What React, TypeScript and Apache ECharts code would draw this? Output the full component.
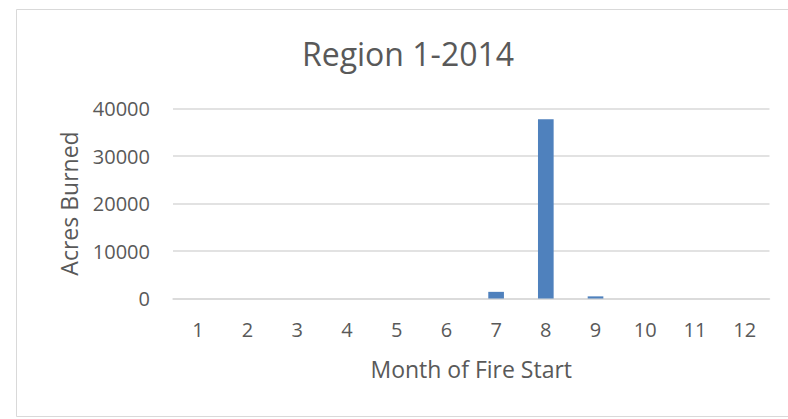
import React, { useEffect, useRef } from "react";
import * as echarts from "echarts";

const months = ["1", "2", "3", "4", "5", "6", "7", "8", "9", "10", "11", "12"];
const acresBurned = [0, 0, 0, 0, 0, 0, 1400, 37750, 450, 0, 0, 0];
const chartTitle = "Region 1-2014";
const xName = "Month of Fire Start";
const yName = "Acres Burned";

const FONT = "'Open Sans', sans-serif";
const TEXT = "#595959";

export default function App() {
  const ref = useRef<HTMLDivElement>(null);
  useEffect(() => {
    document.body.style.margin = "0";
    const chart = echarts.init(ref.current!, null, { renderer: "svg" });
    chart.setOption({
      animation: false,
      backgroundColor: "#ffffff",
      textStyle: { fontFamily: FONT },
      title: {
        text: chartTitle,
        left: 408,
        textAlign: "center",
        top: 37,
        padding: 0,
        textStyle: { fontFamily: FONT, fontSize: 32, fontWeight: "normal", color: TEXT, lineHeight: 32 },
      },
      graphic: [
        {
          type: "rect",
          shape: { x: 16.5, y: 9.5, width: 790, height: 407 },
          style: { fill: "none", stroke: "#D9D9D9", lineWidth: 1 },
          silent: true,
          z: -1,
        },
      ],
      grid: { left: 173, right: 18.5, top: 108.5, bottom: 120.5 },
      xAxis: {
        type: "category",
        data: months,
        name: xName,
        nameLocation: "middle",
        nameGap: 59,
        nameTextStyle: { fontFamily: FONT, fontSize: 23, color: TEXT, lineHeight: 23 },
        axisLine: { lineStyle: { color: "#D9D9D9", width: 1.5 } },
        axisTick: { show: false },
        axisLabel: { fontFamily: FONT, fontSize: 20, color: TEXT, margin: 21, lineHeight: 20 },
      },
      yAxis: {
        type: "value",
        min: 0,
        max: 40000,
        interval: 10000,
        name: yName,
        nameLocation: "middle",
        nameGap: 93,
        nameTextStyle: { fontFamily: FONT, fontSize: 23, color: TEXT, lineHeight: 23 },
        axisLine: { show: false },
        axisTick: { show: false },
        splitLine: { lineStyle: { color: "#D9D9D9", width: 1.5 } },
        axisLabel: {
          fontFamily: FONT,
          fontSize: 20,
          color: TEXT,
          margin: 23,
          formatter: (v: number) => String(v),
        },
      },
      series: [
        {
          type: "bar",
          data: acresBurned,
          barWidth: "31.5%",
          itemStyle: { color: "#4F81BD" },
        },
      ],
    });
    return () => chart.dispose();
  }, []);
  return <div ref={ref} style={{ position: "absolute", left: 0, top: 0, width: 788, height: 419 }} />;
}
